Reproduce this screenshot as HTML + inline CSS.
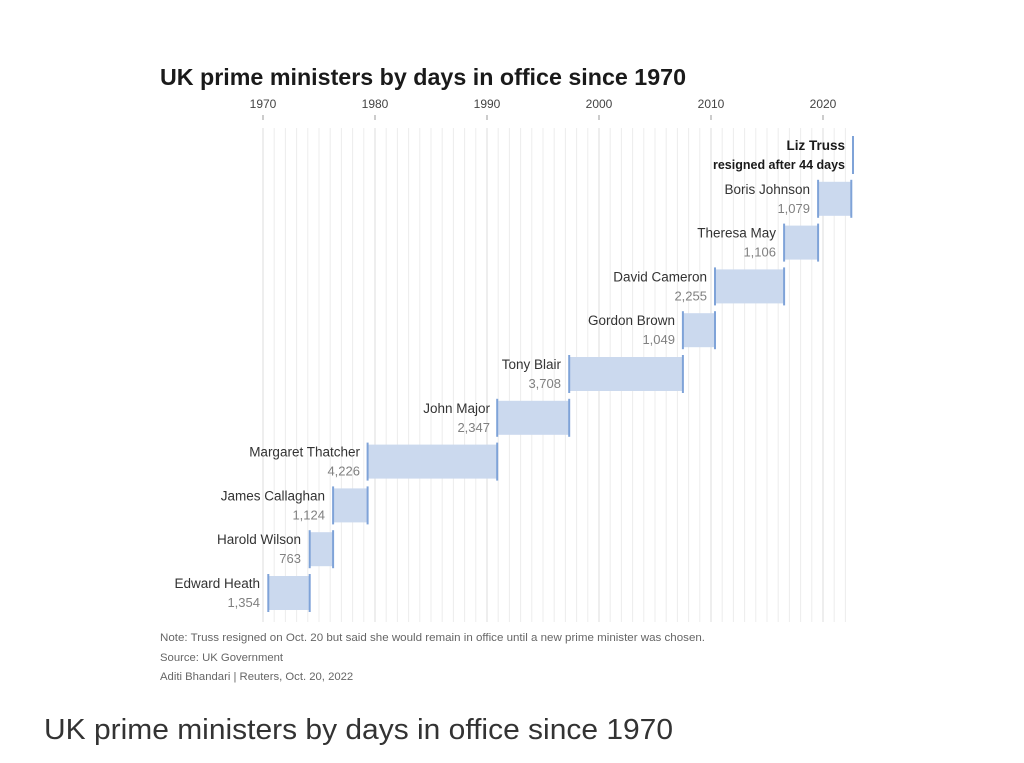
<!DOCTYPE html>
<html><head><meta charset="utf-8"><style>
body{margin:0;background:#fff;width:1024px;height:763px;overflow:hidden}
svg{position:absolute;left:0;top:0}
text{font-family:"Liberation Sans",sans-serif}
.n{font-size:13.5px;fill:#333;text-anchor:end}
.v{font-size:13px;fill:#808080;text-anchor:end}
.y{font-size:12px;fill:#444;text-anchor:middle}
.b{fill:#cbd9ee}
.e{stroke:#7fa3d8;stroke-width:2}
</style></head><body>
<svg width="1024" height="763">
<g stroke="#ececec" stroke-width="1">
<line x1="263" y1="128" x2="263" y2="622"/><line x1="274.2" y1="128" x2="274.2" y2="622"/><line x1="285.4" y1="128" x2="285.4" y2="622"/><line x1="296.6" y1="128" x2="296.6" y2="622"/><line x1="307.8" y1="128" x2="307.8" y2="622"/><line x1="319" y1="128" x2="319" y2="622"/><line x1="330.2" y1="128" x2="330.2" y2="622"/><line x1="341.4" y1="128" x2="341.4" y2="622"/><line x1="352.6" y1="128" x2="352.6" y2="622"/><line x1="363.8" y1="128" x2="363.8" y2="622"/><line x1="375" y1="128" x2="375" y2="622"/><line x1="386.2" y1="128" x2="386.2" y2="622"/><line x1="397.4" y1="128" x2="397.4" y2="622"/><line x1="408.6" y1="128" x2="408.6" y2="622"/><line x1="419.8" y1="128" x2="419.8" y2="622"/><line x1="431" y1="128" x2="431" y2="622"/><line x1="442.2" y1="128" x2="442.2" y2="622"/><line x1="453.4" y1="128" x2="453.4" y2="622"/><line x1="464.6" y1="128" x2="464.6" y2="622"/><line x1="475.8" y1="128" x2="475.8" y2="622"/><line x1="487" y1="128" x2="487" y2="622"/><line x1="498.2" y1="128" x2="498.2" y2="622"/><line x1="509.4" y1="128" x2="509.4" y2="622"/><line x1="520.6" y1="128" x2="520.6" y2="622"/><line x1="531.8" y1="128" x2="531.8" y2="622"/><line x1="543" y1="128" x2="543" y2="622"/><line x1="554.2" y1="128" x2="554.2" y2="622"/><line x1="565.4" y1="128" x2="565.4" y2="622"/><line x1="576.6" y1="128" x2="576.6" y2="622"/><line x1="587.8" y1="128" x2="587.8" y2="622"/><line x1="599" y1="128" x2="599" y2="622"/><line x1="610.2" y1="128" x2="610.2" y2="622"/><line x1="621.4" y1="128" x2="621.4" y2="622"/><line x1="632.6" y1="128" x2="632.6" y2="622"/><line x1="643.8" y1="128" x2="643.8" y2="622"/><line x1="655" y1="128" x2="655" y2="622"/><line x1="666.2" y1="128" x2="666.2" y2="622"/><line x1="677.4" y1="128" x2="677.4" y2="622"/><line x1="688.6" y1="128" x2="688.6" y2="622"/><line x1="699.8" y1="128" x2="699.8" y2="622"/><line x1="711" y1="128" x2="711" y2="622"/><line x1="722.2" y1="128" x2="722.2" y2="622"/><line x1="733.4" y1="128" x2="733.4" y2="622"/><line x1="744.6" y1="128" x2="744.6" y2="622"/><line x1="755.8" y1="128" x2="755.8" y2="622"/><line x1="767" y1="128" x2="767" y2="622"/><line x1="778.2" y1="128" x2="778.2" y2="622"/><line x1="789.4" y1="128" x2="789.4" y2="622"/><line x1="800.6" y1="128" x2="800.6" y2="622"/><line x1="811.8" y1="128" x2="811.8" y2="622"/><line x1="823" y1="128" x2="823" y2="622"/><line x1="834.2" y1="128" x2="834.2" y2="622"/><line x1="845.4" y1="128" x2="845.4" y2="622"/>
</g>
<g stroke="#dcdcdc"><line x1="263" y1="128" x2="263" y2="622"/><line x1="375" y1="128" x2="375" y2="622"/><line x1="487" y1="128" x2="487" y2="622"/><line x1="599" y1="128" x2="599" y2="622"/><line x1="711" y1="128" x2="711" y2="622"/><line x1="823" y1="128" x2="823" y2="622"/></g>
<g stroke="#999"><line x1="263" y1="115" x2="263" y2="120"/><line x1="375" y1="115" x2="375" y2="120"/><line x1="487" y1="115" x2="487" y2="120"/><line x1="599" y1="115" x2="599" y2="120"/><line x1="711" y1="115" x2="711" y2="120"/><line x1="823" y1="115" x2="823" y2="120"/></g>
<text class="y" x="263" y="108">1970</text><text class="y" x="375" y="108">1980</text><text class="y" x="487" y="108">1990</text><text class="y" x="599" y="108">2000</text><text class="y" x="711" y="108">2010</text><text class="y" x="823" y="108">2020</text>
<text x="160" y="85" style="font-size:23px;font-weight:bold;fill:#1a1a1a" textLength="526" lengthAdjust="spacingAndGlyphs">UK prime ministers by days in office since 1970</text>

<rect class="b" x="268.3" y="576" width="41.4" height="34"/><line class="e" x1="268.3" y1="574" x2="268.3" y2="612"/><line class="e" x1="309.7" y1="574" x2="309.7" y2="612"/>
<text class="n" x="260" y="588">Edward Heath</text><text class="v" x="260" y="607">1,354</text>
<rect class="b" x="309.7" y="532.2" width="23.4" height="34"/><line class="e" x1="309.7" y1="530.2" x2="309.7" y2="568.2"/><line class="e" x1="333.1" y1="530.2" x2="333.1" y2="568.2"/>
<text class="n" x="301" y="544.2">Harold Wilson</text><text class="v" x="301" y="563.2">763</text>
<rect class="b" x="333.1" y="488.4" width="34.5" height="34"/><line class="e" x1="333.1" y1="486.4" x2="333.1" y2="524.4"/><line class="e" x1="367.6" y1="486.4" x2="367.6" y2="524.4"/>
<text class="n" x="325" y="500.4">James Callaghan</text><text class="v" x="325" y="519.4">1,124</text>
<rect class="b" x="367.6" y="444.6" width="129.6" height="34"/><line class="e" x1="367.6" y1="442.6" x2="367.6" y2="480.6"/><line class="e" x1="497.2" y1="442.6" x2="497.2" y2="480.6"/>
<text class="n" x="360" y="456.6">Margaret Thatcher</text><text class="v" x="360" y="475.6">4,226</text>
<rect class="b" x="497.2" y="400.8" width="72" height="34"/><line class="e" x1="497.2" y1="398.8" x2="497.2" y2="436.8"/><line class="e" x1="569.2" y1="398.8" x2="569.2" y2="436.8"/>
<text class="n" x="490" y="412.8">John Major</text><text class="v" x="490" y="431.8">2,347</text>
<rect class="b" x="569.2" y="357" width="113.7" height="34"/><line class="e" x1="569.2" y1="355" x2="569.2" y2="393"/><line class="e" x1="682.9" y1="355" x2="682.9" y2="393"/>
<text class="n" x="561" y="369">Tony Blair</text><text class="v" x="561" y="388">3,708</text>
<rect class="b" x="682.9" y="313.2" width="32.1" height="34"/><line class="e" x1="682.9" y1="311.2" x2="682.9" y2="349.2"/><line class="e" x1="715" y1="311.2" x2="715" y2="349.2"/>
<text class="n" x="675" y="325.2">Gordon Brown</text><text class="v" x="675" y="344.2">1,049</text>
<rect class="b" x="715" y="269.4" width="69.1" height="34"/><line class="e" x1="715" y1="267.4" x2="715" y2="305.4"/><line class="e" x1="784.1" y1="267.4" x2="784.1" y2="305.4"/>
<text class="n" x="707" y="281.4">David Cameron</text><text class="v" x="707" y="300.4">2,255</text>
<rect class="b" x="784.1" y="225.6" width="34" height="34"/><line class="e" x1="784.1" y1="223.6" x2="784.1" y2="261.6"/><line class="e" x1="818.1" y1="223.6" x2="818.1" y2="261.6"/>
<text class="n" x="776" y="237.6">Theresa May</text><text class="v" x="776" y="256.6">1,106</text>
<rect class="b" x="818.1" y="181.8" width="33.2" height="34"/><line class="e" x1="818.1" y1="179.8" x2="818.1" y2="217.8"/><line class="e" x1="851.3" y1="179.8" x2="851.3" y2="217.8"/>
<text class="n" x="810" y="193.8">Boris Johnson</text><text class="v" x="810" y="212.8">1,079</text>
<line class="e" x1="853" y1="136" x2="853" y2="174"/>
<text class="n" x="845" y="150" style="font-weight:bold;fill:#1a1a1a">Liz Truss</text>
<text class="n" x="845" y="169" style="font-weight:bold;font-size:12.5px;fill:#1a1a1a">resigned after 44 days</text>

<g style="font-size:11.3px;fill:#666">
<text x="160" y="641" textLength="545" lengthAdjust="spacingAndGlyphs">Note: Truss resigned on Oct. 20 but said she would remain in office until a new prime minister was chosen.</text>
<text x="160" y="661">Source: UK Government</text>
<text x="160" y="680">Aditi Bhandari | Reuters, Oct. 20, 2022</text>
</g>
<text x="44" y="739" style="font-size:29px;fill:#333" textLength="629" lengthAdjust="spacingAndGlyphs">UK prime ministers by days in office since 1970</text>
</svg>
</body></html>
